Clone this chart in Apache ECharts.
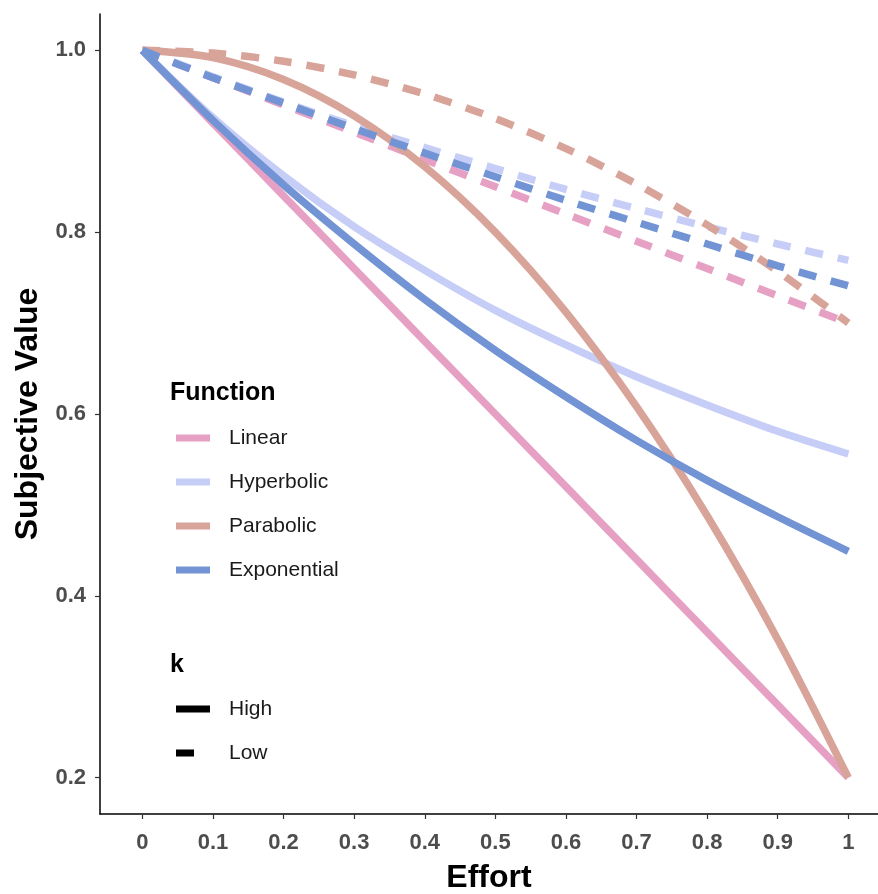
<!DOCTYPE html>
<html>
<head>
<meta charset="utf-8">
<script src="https://cdn.jsdelivr.net/npm/echarts@6/dist/echarts.min.js"></script>
<style>html,body{margin:0;padding:0;background:#fff;}#chart{width:878px;height:894px;}</style>
</head>
<body>
<div id="chart"></div>
<script>
const effort = [0, 0.1, 0.2, 0.3, 0.4, 0.5, 0.6, 0.7, 0.8, 0.9, 1];
const linearHigh = [1, 0.92, 0.84, 0.76, 0.68, 0.60, 0.52, 0.44, 0.36, 0.28, 0.20];
const linearLow = [1, 0.97, 0.94, 0.91, 0.88, 0.85, 0.82, 0.79, 0.76, 0.73, 0.70];
const hyperbolicHigh = [1, 0.926, 0.862, 0.806, 0.758, 0.714, 0.676, 0.641, 0.610, 0.581, 0.556];
const hyperbolicLow = [1, 0.971, 0.943, 0.917, 0.893, 0.870, 0.847, 0.826, 0.806, 0.787, 0.769];
const parabolicHigh = [1, 0.992, 0.968, 0.928, 0.872, 0.800, 0.712, 0.608, 0.488, 0.352, 0.200];
const parabolicLow = [1, 0.997, 0.988, 0.973, 0.952, 0.925, 0.892, 0.853, 0.808, 0.757, 0.700];
const exponentialHigh = [1, 0.923, 0.852, 0.787, 0.726, 0.670, 0.619, 0.571, 0.527, 0.487, 0.449];
const exponentialLow = [1, 0.970, 0.942, 0.914, 0.887, 0.861, 0.835, 0.811, 0.787, 0.763, 0.741];
const functionNames = ['Linear', 'Hyperbolic', 'Parabolic', 'Exponential'];
const kNames = ['High', 'Low'];
const xTickValues = [0, 0.1, 0.2, 0.3, 0.4, 0.5, 0.6, 0.7, 0.8, 0.9, 1];
const yTickValues = [0.2, 0.4, 0.6, 0.8, 1.0];

const colors = {Linear: '#E6A0C4', Hyperbolic: '#C6CDF7', Parabolic: '#D8A499', Exponential: '#7294D4'};
const FONT = 'Liberation Sans';

function mk(name, vals, dashed) {
  const color = colors[name];
  return {
    type: 'line', name: name,
    data: effort.map((x, i) => [x, vals[i]]),
    symbol: 'none', showSymbol: false, smooth: 0.3,
    lineStyle: {color: color, width: 7.5, type: dashed ? [18, 15] : 'solid', cap: 'butt'},
    itemStyle: {color: color},
    emphasis: {disabled: true}, silent: true
  };
}

const series = [
  mk('Linear', linearHigh, false), mk('Linear', linearLow, true),
  mk('Hyperbolic', hyperbolicHigh, false), mk('Hyperbolic', hyperbolicLow, true),
  mk('Parabolic', parabolicHigh, false), mk('Parabolic', parabolicLow, true),
  mk('Exponential', exponentialHigh, false), mk('Exponential', exponentialLow, true),
  {type: 'line', name: 'High', data: [], itemStyle: {color: '#000'}, lineStyle: {color: '#000'}},
  {type: 'line', name: 'Low', data: [], itemStyle: {color: '#000'}, lineStyle: {color: '#000'}}
];

const legText = {fontSize: 21, color: '#1a1a1a', fontFamily: FONT, lineHeight: 22};

const option = {
  animation: false,
  backgroundColor: '#fff',
  textStyle: {fontFamily: FONT},
  grid: {left: 100, top: 14, right: 0, bottom: 80, containLabel: false, outerBoundsMode: 'none'},
  title: [
    {text: 'Function', left: 170, top: 381, padding: 0, textStyle: {fontSize: 25, fontWeight: 'bold', color: '#000', fontFamily: FONT}},
    {text: 'k', left: 170, top: 653, padding: 0, textStyle: {fontSize: 25, fontWeight: 'bold', color: '#000', fontFamily: FONT}}
  ],
  legend: [
    {data: functionNames, orient: 'vertical', left: 176, top: 427, icon: 'rect', itemWidth: 34, itemHeight: 7,
     itemGap: 22, padding: 0, selectedMode: false, textStyle: Object.assign({}, legText, {padding: [0, 0, 0, 14]})},
    {data: [kNames[0]], orient: 'vertical', left: 176, top: 698, icon: 'rect', itemWidth: 34, itemHeight: 7,
     padding: 0, selectedMode: false, textStyle: Object.assign({}, legText, {padding: [0, 0, 0, 14]})},
    {data: [kNames[1]], orient: 'vertical', left: 176, top: 742, icon: 'rect', itemWidth: 18, itemHeight: 7,
     padding: 0, selectedMode: false, textStyle: Object.assign({}, legText, {padding: [0, 0, 0, 30]})}
  ],
  xAxis: {
    type: 'value', min: -0.06, max: 1.042,
    name: 'Effort', nameLocation: 'middle', nameGap: 48,
    nameTextStyle: {fontSize: 32, fontWeight: 'bold', color: '#000', fontFamily: FONT},
    axisLine: {show: true, onZero: false, lineStyle: {color: '#000', width: 1.5}},
    axisTick: {show: true, length: 5, customValues: xTickValues, lineStyle: {color: '#333', width: 1.2}},
    axisLabel: {customValues: xTickValues, margin: 18, fontSize: 22, fontWeight: 'bold', color: '#4D4D4D', fontFamily: FONT,
      formatter: v => String(+(+v).toFixed(1))},
    splitLine: {show: false}
  },
  yAxis: {
    type: 'value', min: 0.16, max: 1.04,
    name: 'Subjective Value', nameLocation: 'middle', nameGap: 55, nameRotate: 90,
    nameTextStyle: {fontSize: 32, fontWeight: 'bold', color: '#000', fontFamily: FONT},
    axisLine: {show: true, onZero: false, lineStyle: {color: '#000', width: 1.5}},
    axisTick: {show: true, length: 5, customValues: yTickValues, lineStyle: {color: '#333', width: 1.2}},
    axisLabel: {customValues: yTickValues, margin: 14, fontSize: 22, fontWeight: 'bold', color: '#4D4D4D', fontFamily: FONT,
      formatter: v => (+v).toFixed(1)},
    splitLine: {show: false}
  },
  series: series
};

const chart = echarts.init(document.getElementById('chart'), null, {renderer: 'canvas'});
chart.setOption(option);
</script>
</body>
</html>
